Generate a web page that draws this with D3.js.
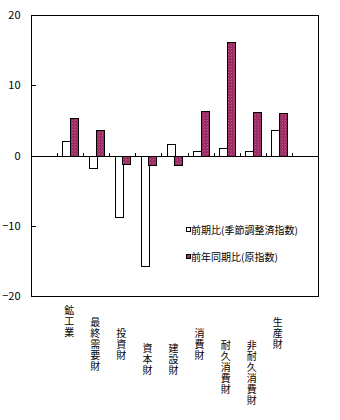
<!DOCTYPE html>
<html><head><meta charset="utf-8">
<script src="https://cdn.jsdelivr.net/npm/d3@7"></script>
<style>body{margin:0;background:#fff}svg{display:block}</style>
</head><body>
<script>
const categories = ["鉱工業","最終需要財","投資財","資本財","建設財","消費財","耐久消費財","非耐久消費財","生産財"];
const seriesNames = ["前期比(季節調整済指数)","前年同期比(原指数)"];
const qoq = [2.0, -1.8, -8.8, -15.8, 1.6, 0.7, 1.1, 0.7, 3.7];
const yoy = [5.4, 3.7, -1.2, -1.4, -1.4, 6.4, 16.1, 6.2, 6.1];
const yTicks = [-20, -10, 0, 10, 20];

(function(){
// layout (not data)
const labelTop = [305, 317, 328, 343, 343, 328, 340, 340, 317];

const W = 340, H = 420;
const pl = 31, pr = 318, pt = 15, pb = 296;
const font = "'Noto Sans CJK JP', sans-serif";

const svg = d3.select("body").append("svg").attr("width", W).attr("height", H);

const defs = svg.append("defs");
const pat = defs.append("pattern").attr("id","dots").attr("patternUnits","userSpaceOnUse")
  .attr("width",3).attr("height",3);
pat.append("rect").attr("width",3).attr("height",3).attr("fill","#9b2b63");
pat.append("rect").attr("x",0).attr("y",0).attr("width",1).attr("height",1).attr("fill","#c0588c");
pat.append("rect").attr("x",2).attr("y",1).attr("width",1).attr("height",1).attr("fill","#b04478");

const y = d3.scaleLinear().domain([-20, 20]).range([pb, pt]);
const x = d3.scaleBand().domain(categories).range([pl, pr]).paddingInner(0).paddingOuter(1);
const xs = d3.scaleBand().domain([0, 1]).range([0, x.bandwidth()]).paddingInner(0).paddingOuter(0.7);

const series = [qoq, yoy];
const fills = ["#ffffff", "url(#dots)"];

const g = svg.append("g").attr("shape-rendering","crispEdges");
series.forEach((vals, si) => {
  g.selectAll(null).data(vals).enter().append("rect")
    .attr("x", (d, i) => Math.round(x(categories[i]) + xs(si)) + 0.5)
    .attr("y", d => Math.round(y(Math.max(0, d))) + 0.5)
    .attr("width", Math.round(xs.bandwidth()))
    .attr("height", d => Math.abs(Math.round(y(d)) - Math.round(y(0))))
    .attr("fill", fills[si])
    .attr("stroke", "#000").attr("stroke-width", 1);
});

svg.append("line").attr("shape-rendering","crispEdges")
  .attr("x1", pl).attr("x2", pr).attr("y1", Math.round(y(0)) + 0.5).attr("y2", Math.round(y(0)) + 0.5)
  .attr("stroke", "#000");

const bounds = categories.map(c => x(c)).concat([x(categories[categories.length-1]) + x.bandwidth()]);
svg.append("g").attr("shape-rendering","crispEdges").selectAll("line").data(bounds).enter().append("line")
  .attr("x1", d => Math.round(d) + 0.5).attr("x2", d => Math.round(d) + 0.5)
  .attr("y1", Math.round(y(0))).attr("y2", Math.round(y(0)) - 3)
  .attr("stroke", "#000");

const yAxis = d3.axisLeft(y).tickValues(yTicks).tickSize(-4).tickPadding(11).tickFormat(d3.format("d"));
const ya = svg.append("g").attr("transform", `translate(${pl + 0.5},0)`).call(yAxis);
ya.select(".domain").remove();
ya.selectAll(".tick line").attr("stroke", "#000").attr("shape-rendering","crispEdges");
ya.selectAll(".tick text").attr("font-family", font).attr("font-size", 11).attr("fill","#000")
  .text(d => d < 0 ? "\u2212" + Math.abs(d) : d);

svg.append("rect").attr("shape-rendering","crispEdges")
  .attr("x", pl + 0.5).attr("y", pt + 0.5).attr("width", pr - pl).attr("height", pb - pt)
  .attr("fill", "none").attr("stroke", "#000");

const lab = svg.append("g").attr("font-family", font).attr("font-size", 10).attr("fill","#000");
categories.forEach((c, i) => {
  const cx = x(c) + x.bandwidth()/2 - 1;
  lab.append("text").attr("x", cx).attr("y", labelTop[i])
    .style("writing-mode", "vertical-rl").style("text-orientation", "upright")
    .attr("letter-spacing", 1)
    .text(c);
});

const leg = svg.append("g").attr("font-family", font).attr("font-size", 10);
const legY = [230, 257];
seriesNames.forEach((n, i) => {
  leg.append("rect").attr("shape-rendering","crispEdges")
    .attr("x", 186.5).attr("y", legY[i] - 2.5).attr("width", 4).attr("height", 4)
    .attr("fill", fills[i]).attr("stroke", "#000");
  leg.append("text").attr("x", 191).attr("y", legY[i] + 4).text(n).attr("fill","#000");
});
})();
</script>
</body></html>
